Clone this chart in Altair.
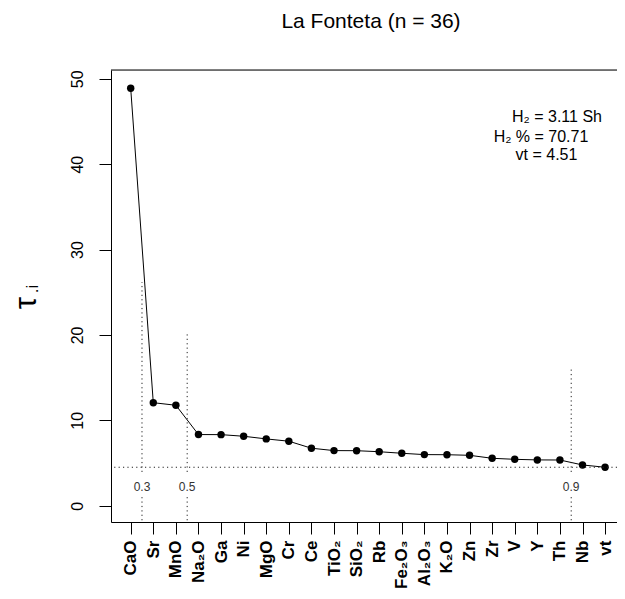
import altair as alt
import pandas as pd

# ---- data ----
names = ["CaO", "Sr", "MnO", "Na₂O", "Ga", "Ni", "MgO", "Cr", "Ce", "TiO₂", "SiO₂",
         "Rb", "Fe₂O₃", "Al₂O₃", "K₂O", "Zn", "Zr", "V", "Y", "Th", "Nb", "vt"]
tau = [48.9, 12.07, 11.77, 8.34, 8.33, 8.14, 7.83, 7.56, 6.74, 6.46, 6.45,
       6.33, 6.15, 5.99, 5.98, 5.91, 5.56, 5.44, 5.37, 5.36, 4.78, 4.51]
vt = 4.51
cut_pos = [1.5, 3.5, 20.5]
cut_top = [26.2, 20.2, 16.1]
cut_label = ["0.3", "0.5", "0.9"]
seg_low = [-1.7, 1.03]     # lower dotted piece (below label)
seg_high_start = 3.96      # upper dotted piece starts here
label_y = 2.25
stats = ["H₂ = 3.11 Sh", "H₂ % = 70.71", "vt = 4.51"]
title_text = "La Fonteta (n = 36)"

W, H = 506, 452
FONT = "Liberation Sans"
STEP = 22.59
TOP = 62

pos = list(range(1, len(names) + 1))
df = pd.DataFrame({"pos": pos, "tau": tau, "name": names})

x0 = 1 - 19.7 / STEP
xscale = alt.Scale(domain=[x0, x0 + W / STEP], nice=False, zero=False)
yscale = alt.Scale(domain=[-1.90, 51.03], nice=False, zero=False)

label_expr = "[" + ",".join("'" + n + "'" for n in names) + "][datum.value - 1]"

xaxis = alt.Axis(values=pos, labelExpr=label_expr, labelAngle=270, labelFontWeight="bold",
                 labelFontSize=17, labelFont=FONT, labelColor="black", labelPadding=6,
                 tickSize=12, tickColor="black", domainColor="black", grid=False, title=None,
                 labelAlign="right", labelBaseline="middle")
yaxis = alt.Axis(values=[0, 10, 20, 30, 40, 50], labelAngle=270, labelFontSize=16,
                 labelFont=FONT, labelColor="black", labelPadding=17, labelAlign="center",
                 labelBaseline="alphabetic", tickSize=12, tickColor="black",
                 domainColor="black", grid=False, title=None)

line = alt.Chart(df).mark_line(color="black", strokeWidth=1).encode(
    x=alt.X("pos:Q", scale=xscale, axis=xaxis),
    y=alt.Y("tau:Q", scale=yscale, axis=yaxis),
)
points = alt.Chart(df).mark_circle(size=55, color="black", opacity=1).encode(
    x=alt.X("pos:Q", scale=xscale, axis=xaxis),
    y=alt.Y("tau:Q", scale=yscale, axis=yaxis),
)

hline = alt.Chart(pd.DataFrame({"v": [vt]})).mark_rule(
    color="#222", strokeWidth=1, strokeDash=[1.2, 3.2]).encode(
    y=alt.Y("v:Q", scale=yscale, axis=yaxis))

segs = pd.DataFrame({
    "x": cut_pos + cut_pos,
    "y1": [seg_low[0]] * 3 + [seg_high_start] * 3,
    "y2": [seg_low[1]] * 3 + cut_top,
})
vlines = alt.Chart(segs).mark_rule(color="#222", strokeWidth=1, strokeDash=[1.2, 3.2]).encode(
    x=alt.X("x:Q", scale=xscale, axis=xaxis),
    y=alt.Y("y1:Q", scale=yscale, axis=yaxis),
    y2="y2:Q",
)
cut_df = pd.DataFrame({"x": cut_pos, "y": [label_y] * 3, "t": cut_label})
cut_text = alt.Chart(cut_df).mark_text(fontSize=12, font=FONT, color="#333",
                                       align="center", baseline="middle").encode(
    x=alt.X("x:Q", scale=xscale, axis=xaxis),
    y=alt.Y("y:Q", scale=yscale, axis=yaxis),
    text="t:N",
)

top_border = alt.Chart(pd.DataFrame({"a": [0]})).mark_rule(color="black", strokeWidth=1).encode(
    x=alt.value(0), x2=alt.value(W), y=alt.value(0))

stat_layers = [
    alt.Chart(pd.DataFrame({"t": [s]})).mark_text(
        fontSize=16, font=FONT, color="black", align="center", baseline="alphabetic").encode(
        x=alt.value(px), y=alt.value(py), text="t:N")
    for s, px, py in zip(stats, [446, 430, 435.5], [52.3, 71.7, 90])
]

title = alt.Chart(pd.DataFrame({"t": [title_text]})).mark_text(
    fontSize=21, font=FONT, color="black", align="center", baseline="alphabetic").encode(
    x=alt.value(260), y=alt.value(-41.7), text="t:N")

tau_lab = alt.Chart(pd.DataFrame({"t": ["τ"]})).mark_text(
    fontSize=31, font=FONT, color="black", align="center", baseline="alphabetic", angle=270).encode(
    x=alt.value(-75), y=alt.value(233), text="t:N")
sub_lab = alt.Chart(pd.DataFrame({"t": [".i"]})).mark_text(
    fontSize=17, font=FONT, color="black", align="center", baseline="alphabetic", angle=270).encode(
    x=alt.value(-73), y=alt.value(219), text="t:N")

chart = alt.layer(
    line, points, hline, vlines, cut_text, top_border, *stat_layers, title, tau_lab, sub_lab
).properties(
    width=W, height=H,
    autosize=alt.AutoSizeParams(type="none"),
    padding={"left": 103, "top": TOP, "right": 0, "bottom": 583 - TOP - H},
).configure_view(stroke=None).configure(font=FONT)

chart.save("out.html", embed_options={"renderer": "svg", "actions": False})
